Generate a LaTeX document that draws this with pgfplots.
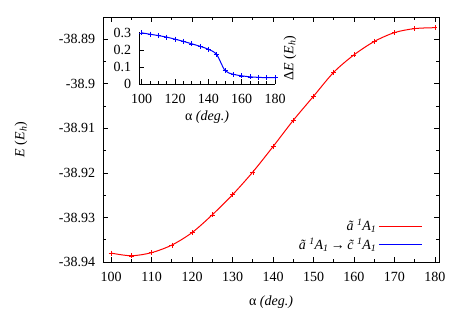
\documentclass[border=0pt]{standalone}
\usepackage{fontspec}
\setmainfont{Liberation Serif}
\usepackage{pgfplots}
\pgfplotsset{compat=1.18}

% red curve: energy of the a~ 1A1 state
\pgfplotstableread{
alpha E
100 -38.9380
105 -38.9386
110 -38.9379
115 -38.9362
120 -38.9334
125 -38.9294
130 -38.9249
135 -38.9198
140 -38.9141
145 -38.9082
150 -38.9028
155 -38.8974
160 -38.8935
165 -38.8905
170 -38.8885
175 -38.8876
180 -38.8874
}\energy

% blue curve: gap a~ -> c~
\pgfplotstableread{
alpha dE
100 0.300
105 0.292
110 0.284
115 0.275
120 0.263
125 0.250
130 0.236
135 0.221
140 0.204
145 0.173
150 0.079
155 0.057
160 0.048
165 0.042
170 0.039
175 0.037
180 0.037
}\gap

\pgfplotsset{
  gp/.style={
    scale only axis,
    font=\fontsize{14bp}{16bp}\selectfont,
    tick align=inside,
    major tick length=5bp,
    minor tick length=3bp,
    axis line style={line width=0.9bp},
    every tick/.style={black, line width=0.7bp},
    scaled ticks=false,
  }
}

\begin{document}
\fontsize{14bp}{16bp}\selectfont
\begin{tikzpicture}
\useasboundingbox (-103bp,-62bp) rectangle (360bp,262bp);
\begin{axis}[gp,
  at={(0bp,0bp)}, anchor=south west,
  width=336bp, height=245bp,
  xmin=98, xmax=181, ymin=-38.94, ymax=-38.885,
  xtick={100,110,...,180},
  xticklabels={100,110,120,130,140,150,160,170,180},
  minor x tick num=1,
  ytick={-38.94,-38.93,-38.92,-38.91,-38.9,-38.89},
  yticklabels={-38.94,-38.93,-38.92,-38.91,-38.9,-38.89},
  minor y tick num=1,
  xticklabel style={yshift=-5bp},
  yticklabel style={xshift=-3bp},
  xlabel={α \textit{(deg.)}},
  ylabel={\textit{E} (\textit{E}\textsubscript{\textit{h}})},
  xlabel style={at={(axis description cs:0.5,-0.163)}, anchor=center},
  ylabel style={at={(axis description cs:-0.244,0.5)}, anchor=center},
  legend plot pos=right,
  legend cell align=right,
  legend style={draw=none, fill=none, at={(axis description cs:0.96,0.025)},
    anchor=south east, row sep=1bp},
  legend image code/.code={\draw[#1, mark=none] (0bp,0bp) -- (43bp,0bp);},
]
\addplot[red, line width=1bp, smooth, mark=+, mark size=2.5bp,
  mark options={line width=0.5bp}] table[x=alpha, y=E] {\energy};
\addlegendentry{\textit{\~a \textsuperscript{1}A\textsubscript{1}}}
\addlegendimage{blue, line width=1bp}
\addlegendentry{\textit{\~a \textsuperscript{1}A\textsubscript{1}}\,→\,\textit{\~c \textsuperscript{1}A\textsubscript{1}}}
\end{axis}

\begin{axis}[gp,
  at={(36bp,178bp)}, anchor=south west,
  width=136bp, height=52bp,
  xmin=98.4, xmax=180, ymin=0, ymax=0.305,
  axis x line*=bottom, axis y line*=left,
  xtick={100,120,...,180},
  xticklabels={100,120,140,160,180},
  minor x tick num=3,
  ytick={0,0.1,0.2,0.3},
  yticklabels={0,0.1,0.2,0.3},
  xticklabel style={yshift=-5bp},
  yticklabel style={xshift=-3bp},
  xlabel={α \textit{(deg.)}},
  ylabel={Δ\textit{E} (\textit{E}\textsubscript{\textit{h}})},
  xlabel style={at={(axis description cs:0.5,-0.635)}, anchor=center},
  ylabel style={at={(axis description cs:1.11,0.5)}, anchor=center},
]
\addplot[blue, line width=1bp, smooth, mark=+, mark size=2.5bp,
  mark options={line width=0.5bp}] table[x=alpha, y=dE] {\gap};
\end{axis}
\end{tikzpicture}
\end{document}
